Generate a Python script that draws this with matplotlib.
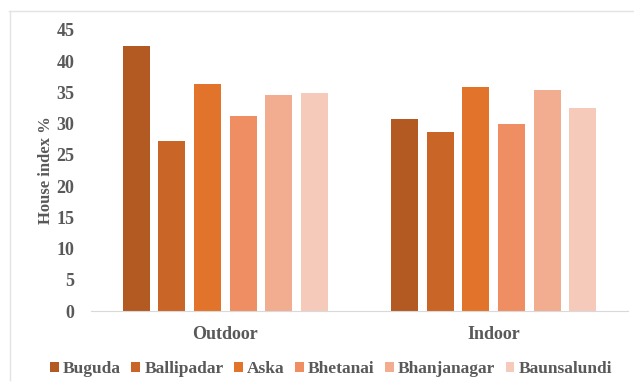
import matplotlib
matplotlib.use("Agg")
import matplotlib.pyplot as plt
from matplotlib.lines import Line2D
import numpy as np

categories = ["Outdoor", "Indoor"]
sites = ["Buguda", "Ballipadar", "Aska", "Bhetanai", "Bhanjanagar", "Baunsalundi"]
buguda = [42.4, 30.8]
ballipadar = [27.3, 28.7]
aska = [36.3, 35.8]
bhetanai = [31.3, 30.0]
bhanjanagar = [34.6, 35.4]
baunsalundi = [34.9, 32.5]
yticks = [0, 5, 10, 15, 20, 25, 30, 35, 40, 45]

series = [buguda, ballipadar, aska, bhetanai, bhanjanagar, baunsalundi]
colors = ["#B35A22", "#C96526", "#E1742A", "#EE8E62", "#F2AC90", "#F5CABA"]

plt.rcParams["font.family"] = ["Liberation Serif", "DejaVu Serif"]
plt.rcParams["font.weight"] = "bold"
text_color = "#595959"

fig = plt.figure(figsize=(6.34, 3.87), dpi=100)
ax = fig.add_axes([91 / 634, 1 - 311 / 387, 537 / 634, (311 - 30) / 387])

x = np.arange(len(categories))
step = 0.1326
width = 0.1006
for i, (name, vals, c) in enumerate(zip(sites, series, colors)):
    offs = (i - (len(sites) - 1) / 2) * step
    ax.bar(x + offs, vals, width=width, color=c, label=name, zorder=2)

ax.set_xlim(-0.5, 1.5)
ax.set_ylim(0, 45)
ax.set_yticks(yticks)
ax.set_xticks(x)
ax.set_xticklabels(categories, fontsize=13, fontweight="bold", color=text_color)
ax.tick_params(axis="y", labelsize=13, labelcolor=text_color, length=0, pad=12)
ax.tick_params(axis="x", length=0, pad=11)
for s in ["top", "right", "left"]:
    ax.spines[s].set_visible(False)
ax.spines["bottom"].set_color("#D9D9D9")
ax.spines["bottom"].set_linewidth(0.8)
ax.set_ylabel("House index %", fontsize=12, fontweight="bold", color=text_color, labelpad=1.5)

leg = fig.legend(loc="center", bbox_to_anchor=(331 / 634, 1 - 369 / 387), ncol=6,
                 frameon=False, fontsize=12.5, handlelength=0.5, handleheight=0.5,
                 handletextpad=0.25, columnspacing=0.6)
for t in leg.get_texts():
    t.set_color(text_color)
    t.set_fontweight("bold")

# light chart-area border on top and left
fig.add_artist(Line2D([9 / 634, 1], [1 - 10.5 / 387, 1 - 10.5 / 387], color="#E3E3E3", lw=1))
fig.add_artist(Line2D([9.5 / 634, 9.5 / 634], [1 - 10.5 / 387, 1 - 380 / 387], color="#E3E3E3", lw=1))

fig.savefig("out.png", dpi=100)
